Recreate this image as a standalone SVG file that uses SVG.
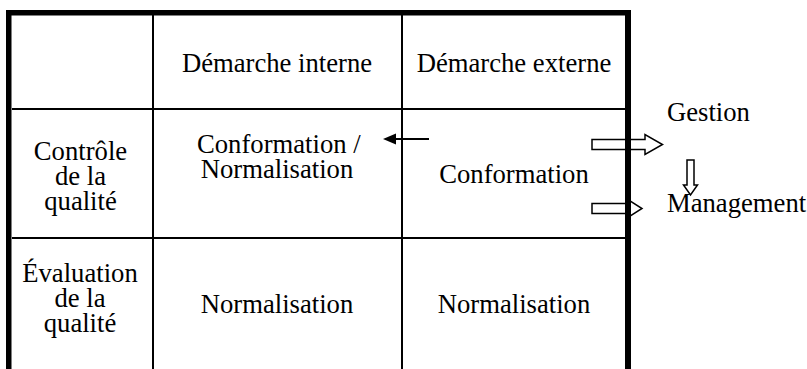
<svg xmlns="http://www.w3.org/2000/svg" width="807" height="369" viewBox="0 0 807 369">
<style>
  text { font-family: "Liberation Serif", "Times New Roman", serif; font-size: 26.67px; fill: #000; }
  .c { text-anchor: middle; }
  .thin { stroke: #000; stroke-width: 2; fill: none; }
  .thick { fill: #000; }
  .hollow { fill: none; stroke: #000; stroke-width: 1.5; stroke-linejoin: miter; }
</style>
<rect width="807" height="369" fill="#fff"/>
<g id="table">
  <line class="thin" x1="12" y1="109" x2="625" y2="109"/>
  <line class="thin" x1="12" y1="238" x2="625" y2="238"/>
  <line class="thin" x1="153" y1="15" x2="153" y2="369"/>
  <line class="thin" x1="402" y1="15" x2="402" y2="369"/>
  <rect class="thick" x="6" y="10" width="625" height="5.5"/>
  <rect class="thick" x="6" y="10" width="5.5" height="359"/>
  <rect class="thick" x="625" y="10" width="6" height="359"/>
</g>
<g id="header-interne"><text class="c" x="277" y="72">Démarche interne</text></g>
<g id="header-externe"><text class="c" x="514" y="72">Démarche externe</text></g>
<g id="row-controle">
  <text class="c" x="80.5" y="160">Contrôle</text>
  <text class="c" x="80.5" y="185">de la</text>
  <text class="c" x="80.5" y="210">qualité</text>
</g>
<g id="cell-conf-norm">
  <text x="197" y="153">Conformation /</text>
  <text class="c" x="277" y="178">Normalisation</text>
</g>
<g id="cell-conformation"><text class="c" x="514" y="183">Conformation</text></g>
<g id="row-evaluation">
  <text class="c" x="80" y="282">Évaluation</text>
  <text class="c" x="80" y="307">de la</text>
  <text class="c" x="80" y="332">qualité</text>
</g>
<g id="cell-norm-interne"><text class="c" x="277" y="313">Normalisation</text></g>
<g id="cell-norm-externe"><text class="c" x="514" y="313">Normalisation</text></g>
<g id="gestion"><text x="667" y="121">Gestion</text></g>
<g id="management"><text x="667" y="212">Management</text></g>
<g id="connectors">
  <line x1="429" y1="139" x2="394" y2="139" stroke="#000" stroke-width="2"/>
  <polygon points="383,139 396,133.5 396,144.5" fill="#000"/>
  <polygon class="hollow" points="592,139.5 645,139.5 645,134.5 662.5,144.5 645,154.5 645,149.5 592,149.5"/>
  <polygon class="hollow" points="592,203.5 628,203.5 628,199.5 642,208.5 628,217.5 628,213.5 592,213.5"/>
  <polygon class="hollow" points="687,160 694,160 694,185 697.5,185 690.5,195 683.5,185 687,185"/>
</g>
</svg>
